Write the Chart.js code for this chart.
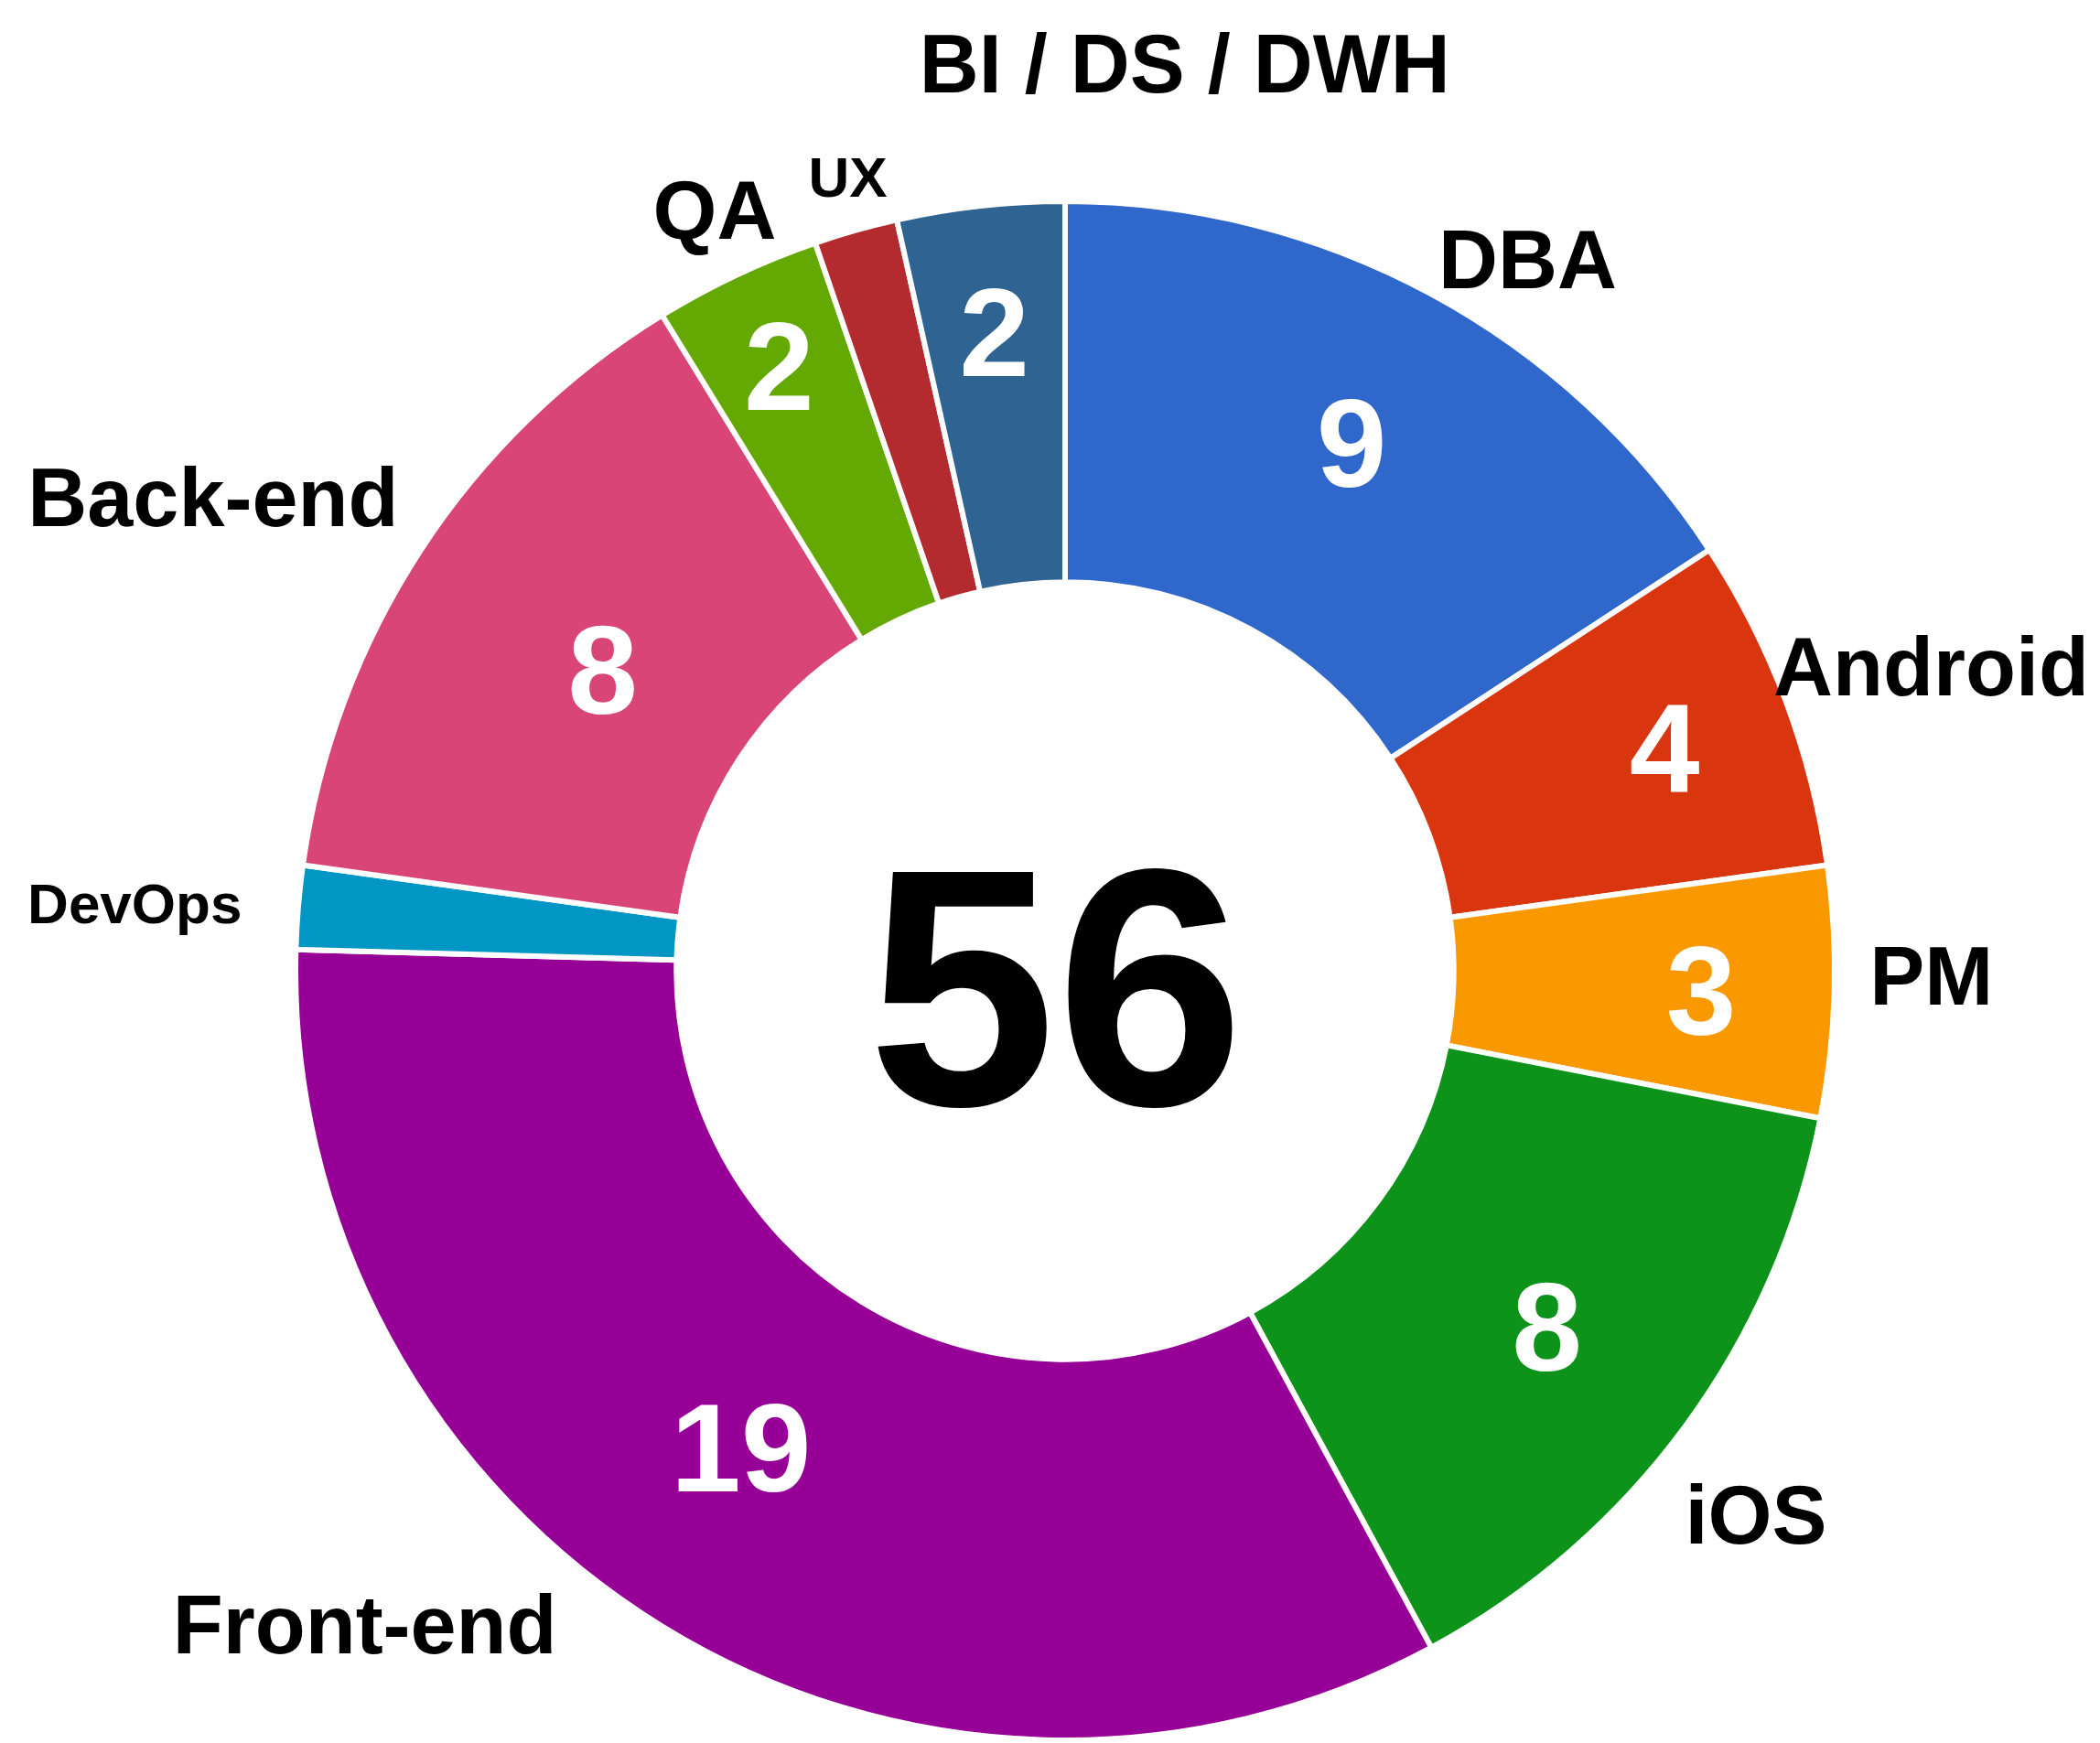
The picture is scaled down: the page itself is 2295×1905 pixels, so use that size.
<!DOCTYPE html>
<html>
<head>
<meta charset="utf-8">
<script src="https://cdn.jsdelivr.net/npm/chart.js@4.4.0/dist/chart.umd.min.js"></script>
<style>
  html, body { margin: 0; padding: 0; background: #fff; }
  #wrap { width: 2295px; height: 1905px; }
</style>
</head>
<body>
<div id="wrap"><canvas id="teamChart" width="2295" height="1905"></canvas></div>
<script>
const categories = ["DBA", "Android", "PM", "iOS", "Front-end", "DevOps", "Back-end", "QA", "UX", "BI / DS / DWH"];
const headcount = [9, 4, 3, 8, 19, 1, 8, 2, 1, 2];
const sliceColors = ["#3067cb", "#d9360f", "#fa9800", "#0d921a", "#960096", "#0296c5", "#d94577", "#63a803", "#b42b2f", "#2f6392"];
const centerLabel = "56";

const FONT = '"Liberation Sans", Arial, Helvetica, sans-serif';

// the names were dragged around by hand in the original, so nudge them a bit:
// angle in degrees clockwise from 12 o'clock, gap = px past the outer edge,
// valueR = where the count sits across the ring (0 inner .. 1 outer)
const labelLayout = {
  "DBA":           { angle: 33,    gap: 7,   valueR: 0.56 },
  "Android":       { angle: 70.6,  gap: -11, valueR: 0.66 },
  "PM":            { angle: 90.3,  gap: 38,  valueR: 0.65 },
  "iOS":           { angle: 128.2, gap: 39,  valueR: 0.55 },
  "Front-end":     { angle: 227,   gap: 30,  valueR: 0.49, valueAngle: 214.3 },
  "DevOps":        { angle: 274.2, gap: 60 },
  "Back-end":      { angle: 299.1, gap: 32,  valueR: 0.43 },
  "QA":            { angle: 335.3, gap: 18,  valueR: 0.74 },
  "UX":            { angle: 344.7, gap: 26 },
  "BI / DS / DWH": { angle: 7.5,   gap: 90,  valueR: 0.67 }
};

const toCanvasAngle = deg => (deg - 90) * Math.PI / 180;

const sliceLabels = {
  id: "sliceLabels",
  afterDatasetsDraw(chart) {
    const ctx = chart.ctx;
    const arcs = chart.getDatasetMeta(0).data;
    let cx = 0, cy = 0;
    ctx.save();
    ctx.textAlign = "center";
    ctx.textBaseline = "alphabetic";
    arcs.forEach((arc, i) => {
      const { x, y, startAngle, endAngle, innerRadius, outerRadius } = arc.getProps(
        ["x", "y", "startAngle", "endAngle", "innerRadius", "outerRadius"], true);
      cx = x; cy = y;
      const v = headcount[i];
      const name = categories[i];
      const lay = labelLayout[name] || {};
      const mid = (startAngle + endAngle) / 2;

      // count inside the ring, skipped for the thin slices
      if (v > 1) {
        const fs = 138;
        const va = lay.valueAngle != null ? toCanvasAngle(lay.valueAngle) : mid;
        const r = innerRadius + (outerRadius - innerRadius) * (lay.valueR ?? 0.6);
        ctx.font = `bold ${fs}px ${FONT}`;
        ctx.fillStyle = "#fff";
        ctx.fillText(String(v), x + Math.cos(va) * r, y + Math.sin(va) * r + fs * 0.358);
      }

      // name outside the ring
      const fs = v > 1 ? 90 : 62;
      ctx.font = `bold ${fs}px ${FONT}`;
      const w = ctx.measureText(name).width;
      const h = fs * 0.716;
      const a = lay.angle != null ? toCanvasAngle(lay.angle) : mid;
      const ux = Math.cos(a), uy = Math.sin(a);
      const d = outerRadius + (lay.gap ?? 30) + Math.abs(ux) * w / 2 + Math.abs(uy) * h / 2;
      ctx.fillStyle = "#000";
      ctx.fillText(name, x + ux * d, y + uy * d + h / 2);
    });

    const big = 370;
    ctx.font = `bold ${big}px ${FONT}`;
    ctx.fillStyle = "#000";
    ctx.fillText(centerLabel, cx - 10, cy + big * 0.358 + 14);
    ctx.restore();
  }
};

new Chart(document.getElementById("teamChart"), {
  type: "doughnut",
  data: {
    labels: categories,
    datasets: [{
      data: headcount,
      backgroundColor: sliceColors,
      borderColor: "#fff",
      borderWidth: 6,
      hoverOffset: 0
    }]
  },
  options: {
    responsive: false,
    devicePixelRatio: 1,
    animation: false,
    cutout: "50.5%",
    layout: { padding: { left: 317, right: 284, top: 217, bottom: -6 } },
    plugins: {
      legend: { display: false },
      tooltip: { enabled: false }
    },
    events: []
  },
  plugins: [sliceLabels]
});
</script>
</body>
</html>
